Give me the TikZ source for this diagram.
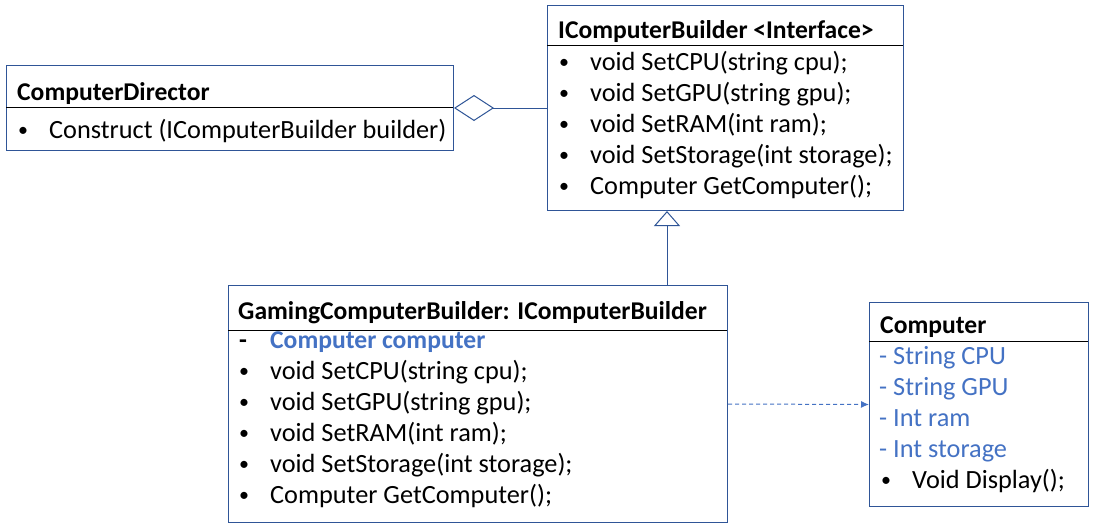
\documentclass[tikz,border=0pt]{standalone}
\usepackage{fontspec}
\setmainfont{Carlito}
\usetikzlibrary{arrows.meta}
\definecolor{boxblue}{HTML}{2F5597}
\definecolor{txtblue}{HTML}{4472C4}
\begin{document}
\begin{tikzpicture}[x=1pt,y=-1pt,
  box/.style={draw=boxblue,line width=1pt,inner sep=0pt,anchor=north west},
  sepline/.style={draw=black,line width=1pt},
  txt/.style={inner sep=0pt,anchor=base west,font=\fontsize{26.3}{30}\selectfont},
  ttl/.style={txt,font=\fontsize{25.6}{30}\selectfont\bfseries},
  bul/.style={inner sep=0pt,anchor=base west,font=\fontsize{20}{24}\selectfont,yshift=1.5pt},
  btxt/.style={txt,text=txtblue},
  agg/.style={draw=boxblue,line width=1pt,{Diamond[open,length=40pt,width=26pt]}-},
  inh/.style={draw=boxblue,line width=1pt,-{Triangle[open,length=15pt,width=26pt]}},
  dep/.style={draw=txtblue,line width=1pt,dash pattern=on 4pt off 3pt,-{Latex[length=8pt,width=7pt]}}]
\useasboundingbox (0,0) rectangle (1096,531);
\fill[white] (0,0) rectangle (1096,531);
% ComputerDirector
\node[box,minimum width=447pt,minimum height=85pt] (dir) at (6,65) {};
\draw[sepline] (6,107.5) -- (453,107.5);
\node[ttl] (dirt) at (17,100) {ComputerDirector};
\node[bul] (dirb) at (18,138) {•};
\node[txt] (dir1) at (49,138) {Construct (IComputerBuilder builder)};
% IComputerBuilder
\node[box,minimum width=356pt,minimum height=205pt] (ifc) at (547,5) {};
\draw[sepline] (547,45) -- (903,45);
\node[ttl] (ifct) at (558,38) {IComputerBuilder <Interface>};
\node[bul] (ifcb1) at (559,70) {•};
\node[txt] (ifc1) at (590,70) {void SetCPU(string cpu);};
\node[bul] (ifcb2) at (559,101) {•};
\node[txt] (ifc2) at (590,101) {void SetGPU(string gpu);};
\node[bul] (ifcb3) at (559,132) {•};
\node[txt] (ifc3) at (590,132) {void SetRAM(int ram);};
\node[bul] (ifcb4) at (559,163) {•};
\node[txt] (ifc4) at (590,163) {void SetStorage(int storage);};
\node[bul] (ifcb5) at (559,194) {•};
\node[txt] (ifc5) at (590,194) {Computer GetComputer();};
% GamingComputerBuilder
\node[box,minimum width=499pt,minimum height=237pt] (gcb) at (228,285) {};
\draw[sepline] (228,330) -- (727,330);
\node[ttl] (gcbt) at (238,319) {GamingComputerBuilder: IComputerBuilder};
\node[ttl] (gcbd) at (239,348) {-};
\node[ttl,text=txtblue] (gcb0) at (270,348) {Computer computer};
\node[bul] (gcbb1) at (239,379) {•};
\node[txt] (gcb1) at (270,379) {void SetCPU(string cpu);};
\node[bul] (gcbb2) at (239,410) {•};
\node[txt] (gcb2) at (270,410) {void SetGPU(string gpu);};
\node[bul] (gcbb3) at (239,441) {•};
\node[txt] (gcb3) at (270,441) {void SetRAM(int ram);};
\node[bul] (gcbb4) at (239,472) {•};
\node[txt] (gcb4) at (270,472) {void SetStorage(int storage);};
\node[bul] (gcbb5) at (239,503) {•};
\node[txt] (gcb5) at (270,503) {Computer GetComputer();};
% Computer
\node[box,minimum width=219pt,minimum height=204pt] (cmp) at (869,302) {};
\draw[sepline] (869,341.5) -- (1088,341.5);
\node[ttl] (cmpt) at (880,333) {Computer};
\node[btxt] (cmp1) at (879,364) {- String CPU};
\node[btxt] (cmp2) at (879,395) {- String GPU};
\node[btxt] (cmp3) at (879,426) {- Int ram};
\node[btxt] (cmp4) at (879,457) {- Int storage};
\node[bul] (cmpb) at (881,488) {•};
\node[txt] (cmp5) at (912,488) {Void Display();};
% connectors
\coordinate (inhx) at (667,0);
\draw[agg] (dir.east) -- (ifc.west |- dir.east);
\draw[inh] (gcb.north -| inhx) -- (ifc.south -| inhx);
\draw[dep] (gcb.east) -- (cmp.west);
\end{tikzpicture}
\end{document}
